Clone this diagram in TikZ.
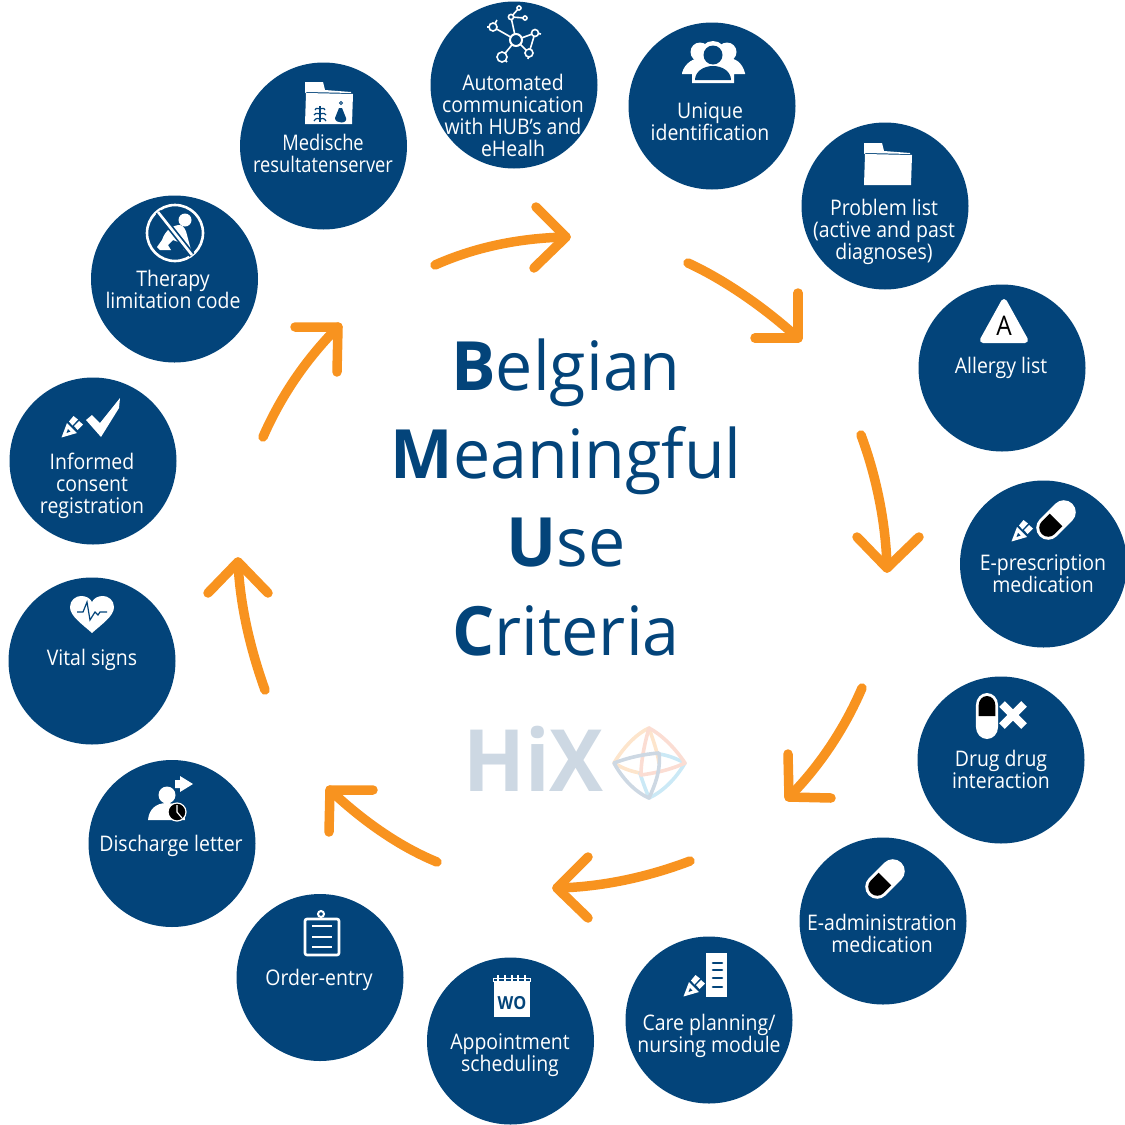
\documentclass[tikz,border=0pt]{standalone}
\usepackage{fontspec}
\setmainfont[FakeStretch=0.905]{Open Sans}
\newfontfamily\titlefont[FakeStretch=0.975]{Open Sans}
\newfontfamily\narrowfont[FakeStretch=0.85]{Open Sans}
\newfontfamily\logofont[FakeStretch=0.94]{Open Sans}
\usetikzlibrary{calc}
\definecolor{navy}{HTML}{03447A}
\definecolor{orng}{HTML}{F8931F}
\definecolor{hixgrey}{HTML}{CDD8E3}
\definecolor{hixpeach}{HTML}{FDE5CC}
\definecolor{hixpink}{HTML}{FBDDD3}
\definecolor{hixblue}{HTML}{CBE9F6}
\tikzset{
  bubble/.style={circle,fill=navy,draw=none,inner sep=0pt,minimum size=167pt},
  lab/.style={text=white,font=\fontsize{21.5}{22}\selectfont,align=center,anchor=base,inner sep=0pt},
  titleline/.style={text=navy,font=\titlefont\fontsize{68}{68}\selectfont,anchor=base,inner sep=0pt},
  flow/.style={draw=orng,line width=9.5pt,line cap=round,line join=round},
  iconline/.style={draw=white,line width=1.6pt},
  knot/.style={line width=3.6pt,line cap=round,line join=round},
  pics/folder/.style={code={
    \fill[white] (0,0)--(18,0)--(20,8)--(46,10)--(46,11)--(2,10)--(0,11)--cycle;
    \fill[white] (0,42)--(1,11)--(48,12)--(47,42)--cycle;
  }},
  pics/pen/.style={code={
    \fill[white] (-0.5,0.5)--(5,-14)--(15,-4)--cycle;
    \fill[navy] (4.5,-4)--(6,-8)--(8.5,-5.5)--cycle;
    \fill[white] (7,-15.5)--(11.5,-21)--(16,-17.5)--(10.5,-11.5)--cycle;
    \fill[white] (12,-11)--(17,-16)--(21,-12.5)--(15.5,-7)--cycle;
  }},
  pics/pill/.style={code={
    \fill[white] (-12,-11) arc[start angle=180,end angle=360,radius=12] -- (12,11) arc[start angle=0,end angle=180,radius=12] -- cycle;
    \fill[black] (-9,0) -- (-9,-11) arc[start angle=180,end angle=360,radius=9] -- (9,0) -- cycle;
  }},
}
\begin{document}
\begin{tikzpicture}[x=1pt,y=-1pt]
\useasboundingbox (0,0) rectangle (1125,1125);

% bubbles
\node[bubble] (b1) at (514,85) {};
\node[bubble] (b2) at (712,106) {};
\node[bubble] (b3) at (885,206) {};
\node[bubble] (b4) at (1002,368) {};
\node[bubble] (b5) at (1043.5,564) {};
\node[bubble] (b6) at (1001,760) {};
\node[bubble] (b7) at (883,921) {};
\node[bubble] (b8) at (709,1020) {};
\node[bubble] (b9) at (510.5,1041) {};
\node[bubble] (b10) at (320,977.5) {};
\node[bubble] (b11) at (172,843.5) {};
\node[bubble] (b12) at (92,661) {};
\node[bubble] (b13) at (93,461) {};
\node[bubble] (b14) at (174.5,279) {};
\node[bubble] (b15) at (323.5,146) {};

% labels
\node[lab] (l1) at (513,156) {Automated\\communication\\with HUB's and\\eHealh};
\node[lab] (l2) at (710,140) {Unique\\identification};
\node[lab] (l3) at (884,259) {Problem list\\(active and past\\diagnoses)};
\node[lab] (l4) at (1001,373) {Allergy list};
\node[lab] (l5) at (1043,592) {E-prescription\\medication};
\node[lab] (l6) at (1001,788) {Drug drug\\interaction};
\node[lab] (l7) at (882,952) {E-administration\\medication};
\node[lab] (l8) at (709,1052) {Care planning/\\nursing module};
\node[lab] (l9) at (510,1071) {Appointment\\scheduling};
\node[lab] (l10) at (319,985) {Order-entry};
\node[lab] (l11) at (171,851) {Discharge letter};
\node[lab] (l12) at (92,665) {Vital signs};
\node[lab] (l13) at (92,513) {Informed\\consent\\registration};
\node[lab] (l14) at (173,308) {Therapy\\limitation code};
\node[lab,font=\narrowfont\fontsize{21.5}{22}\selectfont] (l15) at (323,172) {Medische\\resultatenserver};

% title
\node[titleline] (t1) at (566,390) {\textbf{B}elgian};
\node[titleline] (t2) at (566,478) {\textbf{M}eaningful};
\node[titleline] (t3) at (566,566) {\textbf{U}se};
\node[titleline] (t4) at (566,655) {\textbf{C}riteria};

% arrows
\coordinate (a1s) at (435,265); \coordinate (a1e) at (566,237);
\coordinate (a2s) at (688,263); \coordinate (a2e) at (798,338);
\coordinate (a3s) at (861,435); \coordinate (a3e) at (887,568);
\coordinate (a4s) at (862,688); \coordinate (a4e) at (789,797);
\coordinate (a5s) at (690,861); \coordinate (a5e) at (557,888);
\coordinate (a6s) at (437,862); \coordinate (a6e) at (330,790);
\coordinate (a7s) at (265,690); \coordinate (a7e) at (238,562);
\coordinate (a8s) at (263,437); \coordinate (a8e) at (338,327);
\draw[flow] (a1s) .. controls (480,245) and (525,238) .. (a1e);
\draw[flow] (a1e) ++(-30,-30) -- (a1e) -- ++(-32,31);
\draw[flow] (a2s) .. controls (725,280) and (765,308) .. (a2e);
\draw[flow] (a2e) ++(0,-45) -- (a2e) -- ++(-43,0);
\draw[flow] (a3s) .. controls (877,478) and (886,525) .. (a3e);
\draw[flow] (a3e) ++(-30,-31) -- (a3e) -- ++(32,-31);
\draw[flow] (a4s) .. controls (844,730) and (818,768) .. (a4e);
\draw[flow] (a4e) ++(-1,-43) -- (a4e) -- ++(42,1);
\draw[flow] (a5s) .. controls (648,877) and (602,887) .. (a5e);
\draw[flow] (a5e) ++(31,-31) -- (a5e) -- ++(31,30);
\draw[flow] (a6s) .. controls (398,846) and (362,820) .. (a6e);
\draw[flow] (a6e) ++(43,0) -- (a6e) -- ++(-1,42);
\draw[flow] (a7s) .. controls (250,648) and (240,605) .. (a7e);
\draw[flow] (a7e) ++(-30,31) -- (a7e) -- ++(30,31);
\draw[flow] (a8s) .. controls (280,398) and (305,360) .. (a8e);
\draw[flow] (a8e) ++(-43,0) -- (a8e) -- ++(-1,45);

% HiX logo
\node[text=hixgrey,font=\logofont\fontsize{86}{86}\selectfont\bfseries,anchor=base,inner sep=0pt] (hix) at (533.5,791) {HiX};
\draw[knot,hixpeach] (614,763) .. controls (625,745) and (638,733) .. (649,728) .. controls (653,740) and (657,750) .. (659,763);
\draw[knot,hixpeach] (614,763) .. controls (625,770) and (635,772) .. (640,773);
\draw[knot,hixblue] (685,763) .. controls (675,780) and (662,792) .. (649,798) .. controls (645,788) and (642,780) .. (640,773);
\draw[knot,hixblue] (685,763) .. controls (675,758) and (667,755) .. (659,754);
\draw[knot,hixpink] (649,728) .. controls (662,735) and (675,748) .. (685,763) .. controls (670,770) and (655,773) .. (641,775) .. controls (641,760) and (645,742) .. (649,728);
\draw[knot,hixgrey] (614,763) .. controls (630,757) and (645,754) .. (659,753) .. controls (661,770) and (655,785) .. (649,798) .. controls (635,792) and (622,778) .. (614,763);

% icon: network
\foreach \xx/\yy in {493/27,511/17,535/33,529/53,502/57} \draw[iconline] (516,40) -- (\xx,\yy);
\draw[iconline] (511,17) -- (519,8) (511,17) -- (525,18) (535,33) -- (529,53) (493,27) -- (487,27) (493,27) -- (497,20) (502,57) -- (507,62) (535,33) -- (541,34) (529,53) -- (528,59);
\foreach \xx/\yy/\rr in {493/27/4,511/17/2.6,519/8/2,525/18/2,535/33/3.5,529/53/4,502/57/5} \draw[iconline,fill=navy] (\xx,\yy) circle (\rr);
\draw[white,line width=2pt,fill=navy] (516,40) circle (6);

% icon: users
\fill[white] (700,52) circle (9.5) (727,52) circle (9.5) (713,54) circle (13);
\fill[white] (682,73) .. controls (685,62) and (695,58) .. (700,58) -- (727,58) .. controls (735,58) and (742,62) .. (745,73) -- (745,74) -- (734,74) -- (734,83) -- (692,83) -- (692,74) -- (682,74) -- cycle;
\fill[navy] (713,55) circle (9.5);
\fill[navy] (695,80) .. controls (695,72) and (703,66) .. (713,66) .. controls (723,66) and (731,72) .. (731,80) -- cycle;

% icons: folders
\pic at (864,143) {folder};
\pic at (305,82) {folder};
\draw[navy,line width=1.2pt] (320,106)--(320,122);
\draw[navy,line width=1.2pt] (315,110) .. controls (316,107) and (319,109) .. (320,109) .. controls (321,109) and (324,107) .. (325,110)
  (314,115) .. controls (316,112) and (319,114) .. (320,114) .. controls (321,114) and (324,112) .. (326,115)
  (314,121) .. controls (316,117) and (319,119) .. (320,119) .. controls (321,119) and (324,117) .. (326,121);
\fill[navy] (339,108)--(342,108)--(346,118) .. controls (348,124) and (335,124) .. (335,118) -- cycle;
\draw[navy,line width=0.9pt] (341,103) circle (1.5);

% icon: allergy
\draw[white,fill=white,line width=6pt,line join=round] (1004,302)--(983,340)--(1025,340)--cycle;
\node[text=black,font=\fontsize{27}{27}\selectfont,anchor=base,inner sep=0pt] (allergyA) at (1004,335) {A};

% icons: pills and pens
\pic[rotate=135] at (1056,520) {pill};
\pic at (1012,541) {pen};
\pic[xscale=0.92] at (987,716) {pill};
\draw[white,line width=8pt] (1002,704) -- (1024,726) (1024,704) -- (1002,726);
\pic[rotate=135] at (885,879) {pill};
\pic at (684,996) {pen};
\pic at (62,437) {pen};

% icon: care sheet
\fill[white] (706,953) rectangle (727,997);
\draw[navy,line width=2.6pt,line cap=round] (713,963)--(722,963) (713,970)--(722,970) (713,978)--(722,978) (713,987)--(722,987);

% icon: check
\fill[white] (86,420)--(92,415)--(100,423)--(120,398)--(119,408)--(101,437)--cycle;

% icon: heart
\fill[white] (92,633) .. controls (82,624) and (70,616) .. (70,607) .. controls (70,600) and (76,596) .. (81,596) .. controls (86,596) and (90,598) .. (92,602) .. controls (94,598) and (98,596) .. (103,596) .. controls (108,596) and (114,600) .. (114,607) .. controls (114,616) and (102,624) .. (92,633) -- cycle;
\draw[navy,line width=1.2pt] (77,612)--(83,612)--(87,602)--(90,620)--(95,612)--(98,615)--(100,612)--(107,612);

% icon: no crawling
\draw[white,line width=2.6pt] (175,233) circle (28);
\fill[white] (185,220) circle (6.5);
\fill[white] (180,225) .. controls (172,225) and (165,231) .. (162,240) -- (157,247) -- (160,250) -- (171,250) -- (168,245) -- (173,240) -- (181,243) -- (184,250) -- (191,250) -- (187,235) .. controls (186,230) and (184,226) .. (180,225) -- cycle;
\draw[navy,line width=6pt] (158,212) -- (192,255);
\draw[white,line width=2.6pt] (158,212) -- (192,255);

% icon: discharge
\fill[white] (167,795) circle (8.5);
\fill[white] (148,820) .. controls (149,810) and (155,803) .. (167,803) .. controls (178,803) and (185,810) .. (185,820) -- cycle;
\fill[black,draw=white,line width=1.2pt] (177,812) circle (9);
\draw[white,line width=1.2pt] (177,805) -- (177,812) -- (182,818);
\fill[white] (175,780)--(180,780)--(180,776)--(193,784)--(180,792)--(180,788)--(175,788)--cycle;

% icon: clipboard
\draw[white,line width=2.6pt,rounded corners=2pt] (305,919) rectangle (339,955);
\draw[white,line width=2pt,fill=navy] (321,914) circle (3);
\draw[white,line width=2pt] (312,926)--(332,926) (312,937)--(332,937) (312,947)--(332,947);

% icon: calendar
\fill[white] (494,981) rectangle (530,1017);
\draw[white,line width=1pt] (493.5,982)--(493.5,978)--(530,978)--(530,982);
\draw[white,line width=1.4pt] (498,975)--(498,981) (505,975)--(505,981) (512,975)--(512,981) (518,975)--(518,981) (525,975)--(525,981);
\node[text=navy,font=\fontsize{18}{18}\selectfont\bfseries,anchor=base,inner sep=0pt] (wo) at (512,1009) {WO};
\end{tikzpicture}
\end{document}
